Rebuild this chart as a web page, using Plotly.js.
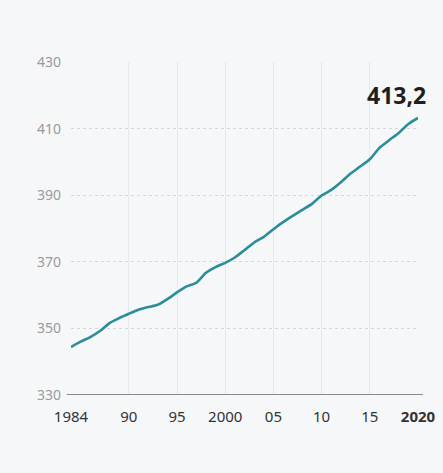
<!DOCTYPE html>
<html><head><meta charset="utf-8">
<script src="https://cdn.plot.ly/plotly-3.0.1.min.js"></script>
<style>html,body{margin:0;padding:0;background:#f6f7f9;}</style>
</head><body>
<div id="chart" style="width:443px;height:473px;"></div>
<script>
const years = [1984,1985,1986,1987,1988,1989,1990,1991,1992,1993,1994,1995,1996,1997,1998,1999,2000,2001,2002,2003,2004,2005,2006,2007,2008,2009,2010,2011,2012,2013,2014,2015,2016,2017,2018,2019,2020];
const co2 = [344.4,346.0,347.4,349.2,351.6,353.1,354.4,355.6,356.4,357.1,358.8,360.8,362.6,363.7,366.7,368.4,369.7,371.3,373.5,375.8,377.5,379.8,381.9,383.8,385.6,387.4,389.9,391.6,393.9,396.5,398.6,400.8,404.2,406.5,408.7,411.4,413.2];
const xTickVals = [1984,1990,1995,2000,2005,2010,2015,2020];
const xTickText = ['1984','90','95','2000','05','10','15','<b>2020</b>'];
const yTickVals = [330,350,370,390,410,430];
const lastLabel = '413,2';

const trace = {
  x: years, y: co2, type: 'scatter', mode: 'lines',
  line: {color: '#2a8d99', width: 2.6, shape: 'spline', smoothing: 0.6},
  hoverinfo: 'skip'
};
const layout = {
  width: 443, height: 473,
  margin: {l: 71, r: 25, t: 62, b: 78},
  paper_bgcolor: '#f6f7f9', plot_bgcolor: '#f6f7f9',
  showlegend: false,
  font: {family: 'Noto Sans, sans-serif'},
  xaxis: {
    range: [1984, 2020], tickmode: 'array', tickvals: xTickVals, ticktext: xTickText,
    showgrid: true, gridcolor: '#e7e8eb', gridwidth: 1, zeroline: false, showline: false,
    tickfont: {size: 15, color: '#333', family: 'Noto Sans, sans-serif'}, ticks: '', ticklabelstandoff: 11
  },
  yaxis: {
    range: [330, 430], tickmode: 'array', tickvals: yTickVals,
    showgrid: true, gridcolor: '#d6d7da', gridwidth: 1, griddash: 'dot', zeroline: false, showline: false,
    tickfont: {size: 14, color: '#9a9a9a', family: 'Noto Sans, sans-serif'}, ticks: '', ticklabelstandoff: 9
  },
  shapes: [{type: 'line', xref: 'paper', yref: 'y', x0: -0.012, x1: 1.014, y0: 330, y1: 330,
            line: {color: '#8a8a8a', width: 2}}],
  annotations: [{x: years[years.length-1], y: co2[co2.length-1], xref: 'x', yref: 'y',
    text: '<b>' + lastLabel + '</b>', showarrow: false, xanchor: 'right', yanchor: 'bottom',
    xshift: 10, yshift: 5, font: {size: 23, color: '#1e1e1e', family: 'Noto Sans, sans-serif'}}]
};
Plotly.newPlot('chart', [trace], layout, {displayModeBar: false, staticPlot: true});
</script>
</body></html>
